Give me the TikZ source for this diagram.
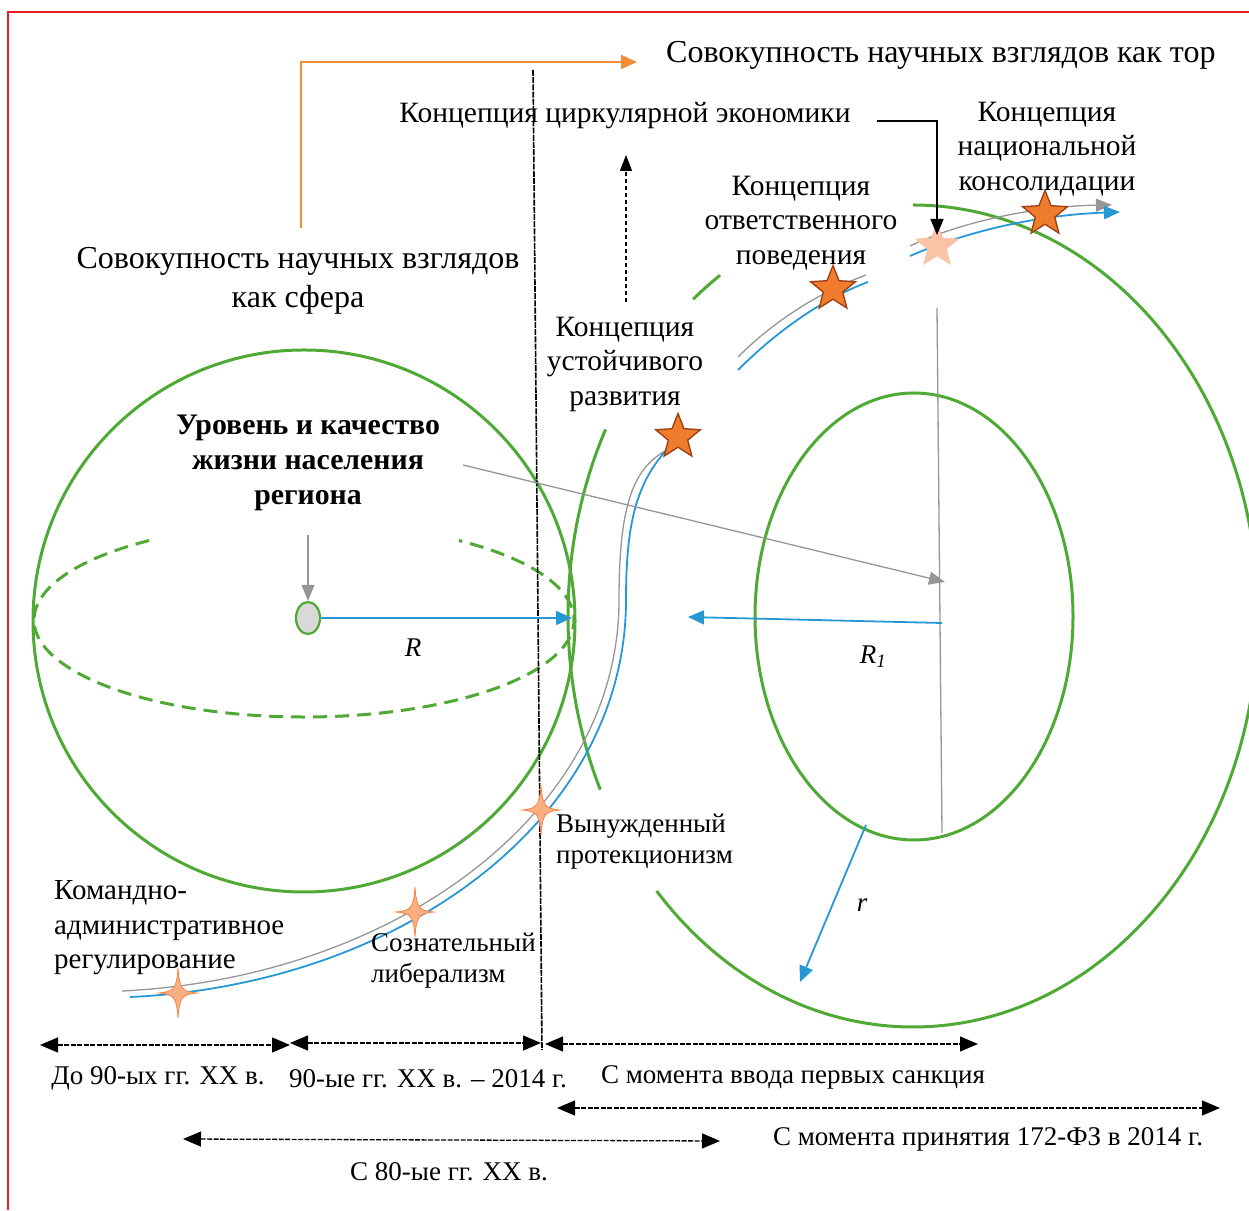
\documentclass[tikz,border=0pt]{standalone}
\usepackage{fontspec}
\setmainfont{Liberation Serif}
\usetikzlibrary{arrows.meta,shapes.geometric}
\definecolor{grn}{RGB}{78,170,52}
\definecolor{blu}{RGB}{38,152,214}
\definecolor{gry}{RGB}{150,150,150}
\definecolor{orng}{RGB}{242,140,56}
\definecolor{redb}{RGB}{232,30,40}
\definecolor{starfill}{RGB}{240,125,45}
\definecolor{staredge}{RGB}{160,65,20}
\definecolor{sparkfill}{RGB}{250,175,130}
\definecolor{sparkedge}{RGB}{242,135,75}
\definecolor{palestar}{RGB}{250,195,165}
\tikzset{
  txt/.style={font=\fontsize{27}{34}\selectfont, align=center, inner sep=0pt},
  concept/.style={font=\fontsize{29.5}{34.5}\selectfont, align=center, inner sep=0pt},
  txtl/.style={font=\fontsize{27}{31}\selectfont, align=left, anchor=west, inner sep=0pt},
  greenline/.style={draw=grn, line width=3pt},
  bluearr/.style={draw=blu, line width=1.8pt, -{Triangle[length=16pt,width=14pt]}},
  bluecurve/.style={draw=blu, line width=1.8pt},
  graycurve/.style={draw=gry, line width=1.3pt},
  grayarr/.style={draw=gry, line width=1.3pt, -{Triangle[length=16pt,width=13pt]}},
  timearr/.style={draw=black, line width=1.3pt, dash pattern=on 5pt off 1.5pt, {Triangle[length=18pt,width=15pt]}-{Triangle[length=18pt,width=15pt]}},
  bigstar/.style={star, star points=5, star point ratio=2.3, minimum size=47pt, inner sep=0pt, fill=starfill, draw=staredge, line width=1.4pt},
  spark/.pic={\path[fill=sparkfill, draw=sparkedge, line width=0.8pt]
    (0,25) .. controls (1.5,4) and (4,1.5) .. (19,0)
    .. controls (4,-1.5) and (1.5,-4) .. (0,-25)
    .. controls (-1.5,-4) and (-4,-1.5) .. (-19,0)
    .. controls (-4,1.5) and (-1.5,4) .. (0,25) -- cycle;}
}
\begin{document}
\begin{tikzpicture}[x=1pt,y=1pt]
\useasboundingbox (0,0) rectangle (1249,1210);
\clip (0,0) rectangle (1249,1210);
% frame
\draw[redb, line width=2pt] (8,0) -- (8,1198) -- (1249,1198);

% left sphere
\draw[greenline] (304,589) circle[radius=271];
\draw[greenline, dash pattern=on 14pt off 8pt] (304,590) ++(125:270 and 97)
  arc[start angle=125, end angle=415, x radius=270, y radius=97];

% torus
\draw[greenline] (913,594) ++(124:345 and 411) arc[start angle=124, end angle=129.6, x radius=345, y radius=411];
\draw[greenline] (913,594) ++(153:345 and 411) arc[start angle=153, end angle=205, x radius=345, y radius=411];
\draw[greenline] (913,594) ++(222:345 and 411) arc[start angle=222, end angle=450, x radius=345, y radius=411];
\draw[greenline] (914,593.5) ellipse[x radius=159, y radius=223.5];

% vertical dashed divider
\coordinate (divtop) at (533,1140);
\coordinate (divbot) at (542,160);
\draw[black, line width=1.6pt, dash pattern=on 6pt off 1.2pt] (divtop) -- (divbot);

% torus axis
\coordinate (axtop) at (937,902);
\coordinate (axbot) at (942,377);
\draw[gry, line width=1.3pt] (axtop) -- (axbot);

% path curves
\draw[graycurve] (122,219) .. controls (395,232) and (619,397) .. (619,610)
  .. controls (619,705) and (633,742) .. (667,760);
\draw[bluecurve] (130,213) .. controls (400,225) and (626,390) .. (626,610)
  .. controls (626,700) and (640,740) .. (687,780);
\draw[graycurve] (738,853) .. controls (775,890) and (820,918) .. (866,935);
\draw[bluecurve] (738,840) .. controls (775,877) and (820,910) .. (868,928);
\draw[graycurve, -{Triangle[length=16pt,width=13pt]}] (910,964) .. controls (965,990) and (1040,1004) .. (1112,1005);
\draw[bluecurve, -{Triangle[length=16pt,width=13pt]}] (910,954) .. controls (970,980) and (1040,995) .. (1120,998);

% stars
\pic at (178,217) {spark};
\pic at (415,298) {spark};
\pic at (541,400) {spark};
\node[bigstar] (st1) at (678,773) {};
\node[bigstar] (st2) at (833,921) {};
\node[bigstar] (st3) at (1045,996) {};
\node[bigstar, fill=palestar, draw=none] (st4) at (937,964) {};

% centre of sphere
\node[ellipse, draw=grn, fill=gray!30, line width=2.2pt, minimum width=24pt, minimum height=32pt, inner sep=0pt] (c0) at (308,592) {};
\coordinate (g0) at (308,675);
\draw[grayarr] (g0) -- (c0.north);
\coordinate (Rend) at (572,592);
\draw[bluearr] (c0.east) -- (Rend);
\node[txt, font=\fontsize{27}{34}\selectfont\itshape] (Rl) at (413,562) {R};

% torus radii
\coordinate (r1s) at (942,587);
\coordinate (r1e) at (688,593);
\draw[bluearr] (r1s) -- (r1e);
\node[txt, font=\fontsize{27}{34}\selectfont\itshape] (R1l) at (873,553) {R\textsubscript{1}};
\coordinate (rs) at (866,385);
\coordinate (re) at (800,228);
\draw[bluearr] (rs) -- (re);
\node[txt, font=\fontsize{27}{34}\selectfont\itshape] (rl) at (862,305) {r};

% texts
\node[txt, font=\fontsize{32}{39}\selectfont, anchor=west] (tor) at (666,1155) {Совокупность научных взглядов как тор};
\node[concept] (circ) at (625,1094) {Концепция циркулярной экономики};
\node[concept] (nat) at (1047,1061) {Концепция\\национальной\\консолидации};
\node[concept] (otv) at (801,987) {Концепция\\ответственного\\поведения};
\node[concept] (ust) at (625,846) {Концепция\\устойчивого\\развития};
\node[txt, font=\fontsize{32}{39}\selectfont] (sph) at (298,929) {Совокупность научных взглядов\\как сфера};
\node[txt, font=\fontsize{29.8}{35}\selectfont\bfseries] (lvl) at (308,747) {Уровень и качество\\жизни населения\\региона};
\node[txtl] (vyn) at (556,368) {Вынужденный\\протекционизм};
\node[txtl, font=\fontsize{29}{34.5}\selectfont] (kom) at (54,282) {Командно-\\административное\\регулирование};
\node[txtl] (soz) at (371,249) {Сознательный\\либерализм};

% connectors among texts
\coordinate (lvlp) at (463,745);
\coordinate (tc) at (945,628);
\draw[grayarr] (lvlp) -- (tc);
\coordinate (orS) at (301,982);
\coordinate (orE) at (637,1148);
\draw[orng, line width=1.8pt, -{Triangle[length=16pt,width=14pt]}] (orS) |- (orE);
\coordinate (ceS) at (877,1089);
\coordinate (ceE) at (937,975);
\draw[black, line width=1.2pt, -{Triangle[length=16pt,width=13pt]}] (ceS) -| (ceE);
\coordinate (dS) at (626,908);
\coordinate (dE) at (626,1055);
\draw[black, line width=1.1pt, dash pattern=on 4pt off 3pt, -{Triangle[length=16pt,width=12pt]}] (dS) -- (dE);

% timeline
\coordinate (a1) at (40,165); \coordinate (b1) at (290,165);
\coordinate (a2) at (290,167); \coordinate (b2) at (541,167);
\coordinate (a3) at (545,166); \coordinate (b3) at (978,166);
\coordinate (a4) at (557,102); \coordinate (b4) at (1220,102);
\coordinate (a5) at (183,71); \coordinate (b5) at (720,69);
\draw[timearr] (a1) -- (b1);
\draw[timearr] (a2) -- (b2);
\draw[timearr] (a3) -- (b3);
\draw[timearr] (a4) -- (b4);
\draw[timearr] (a5) -- (b5);
\node[txt] (t1) at (158,132) {До 90-ых гг. XX в.};
\node[txt] (t2) at (428,131) {90-ые гг. XX в. – 2014 г.};
\node[txt] (t3) at (793,133) {С момента ввода первых санкция};
\node[txt] (t4) at (988,71) {С момента принятия 172-ФЗ в 2014 г.};
\node[txt] (t5) at (449,38) {С 80-ые гг. XX в.};
\end{tikzpicture}
\end{document}
